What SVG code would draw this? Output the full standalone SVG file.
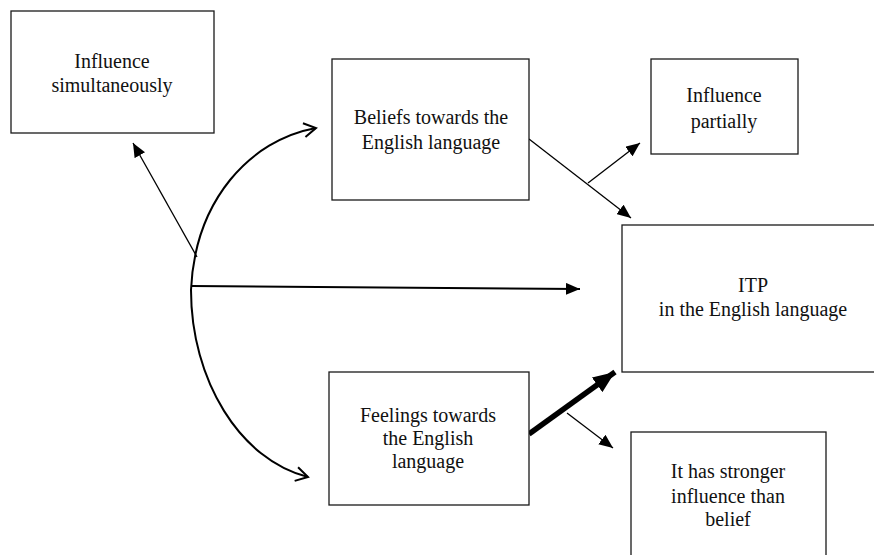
<svg xmlns="http://www.w3.org/2000/svg" width="874" height="555" viewBox="0 0 874 555">
<defs>
<style>
.box{fill:#fff;stroke:#1a1a1a;stroke-width:1.3}
text{font-family:'Liberation Serif','Tinos','Times New Roman','DejaVu Serif',serif;font-size:20px;fill:#111;text-anchor:middle}
.c{fill:none;stroke:#000}
</style>
<marker id="open" markerUnits="userSpaceOnUse" markerWidth="16" markerHeight="18" viewBox="0 0 16 18" refX="14" refY="9" orient="auto-start-reverse">
<path d="M2,2 L14,9 L2,16" fill="none" stroke="#000" stroke-width="2"/>
</marker>
<marker id="tri" markerUnits="userSpaceOnUse" markerWidth="14" markerHeight="12" viewBox="0 0 14 12" refX="14" refY="6" orient="auto">
<path d="M0,0 L14,6 L0,12 z" fill="#000"/>
</marker>
<marker id="big" markerUnits="userSpaceOnUse" markerWidth="22" markerHeight="18" viewBox="0 0 22 18" refX="22" refY="9" orient="auto">
<path d="M0,0 L22,9 L0,18 z" fill="#000"/>
</marker>
</defs>
<rect width="874" height="555" fill="#fff"/>
<g id="connectors">
<path class="c" stroke-width="2" d="M316,128 C250,140 195,200 191,290 C191,380 240,460 308,477" marker-start="url(#open)" marker-end="url(#open)"/>
<line class="c" stroke-width="2" x1="191" y1="286" x2="580" y2="289" marker-end="url(#tri)"/>
<line class="c" stroke-width="1.3" x1="197" y1="257" x2="133" y2="143" marker-end="url(#tri)"/>
<line class="c" stroke-width="1.3" x1="529" y1="139" x2="631" y2="218" marker-end="url(#tri)"/>
<line class="c" stroke-width="1.3" x1="588" y1="183" x2="640" y2="143" marker-end="url(#tri)"/>
<line class="c" stroke-width="5.5" x1="529" y1="434" x2="615" y2="372" marker-end="url(#big)"/>
<line class="c" stroke-width="1.3" x1="567" y1="413" x2="613" y2="448" marker-end="url(#tri)"/>
</g>
<g id="influence-simultaneously">
<rect class="box" x="11" y="11" width="203" height="122"/>
<text x="112" y="68">Influence</text>
<text x="112" y="92">simultaneously</text>
</g>
<g id="beliefs">
<rect class="box" x="332" y="59" width="197" height="141"/>
<text x="431" y="124">Beliefs towards the</text>
<text x="431" y="149">English language</text>
</g>
<g id="influence-partially">
<rect class="box" x="651" y="59" width="147" height="95"/>
<text x="724" y="102">Influence</text>
<text x="724" y="128">partially</text>
</g>
<g id="itp">
<rect class="box" x="622" y="225" width="260" height="147"/>
<text x="753" y="292">ITP</text>
<text x="753" y="316">in the English language</text>
</g>
<g id="feelings">
<rect class="box" x="329" y="372" width="200" height="133"/>
<text x="428" y="422">Feelings towards</text>
<text x="428" y="445">the English</text>
<text x="428" y="468">language</text>
</g>
<g id="stronger">
<rect class="box" x="631" y="432" width="195" height="140"/>
<text x="728" y="478">It has stronger</text>
<text x="728" y="503">influence than</text>
<text x="728" y="526">belief</text>
</g>
</svg>
